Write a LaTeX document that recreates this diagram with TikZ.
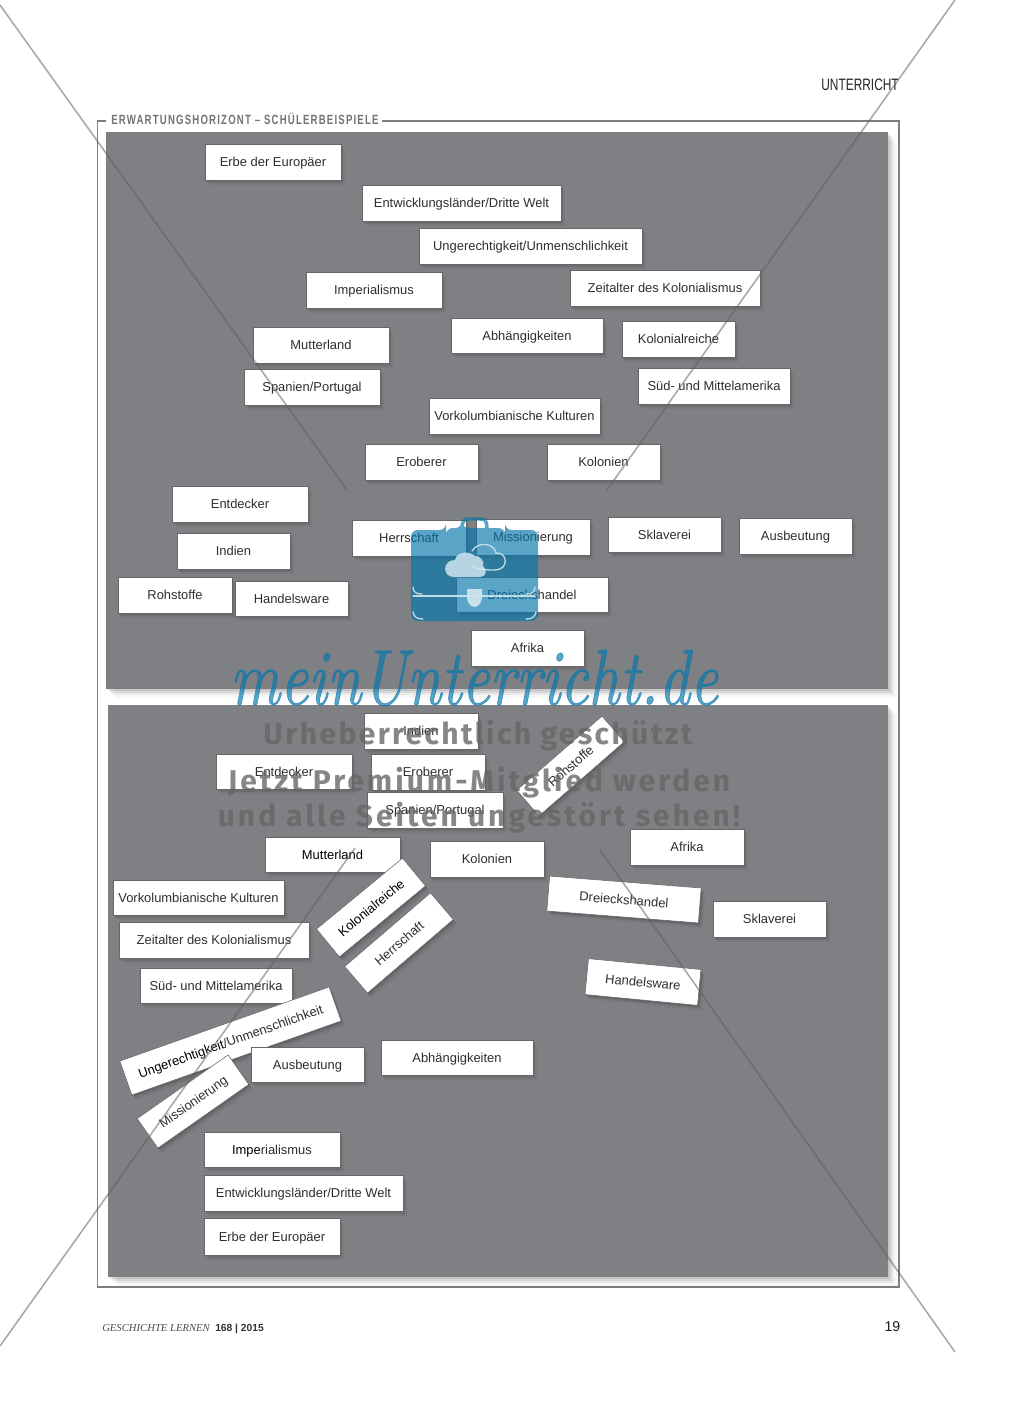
\documentclass[tikz,border=0pt]{standalone}
\usepackage{fontspec}
\usepackage{graphicx}
\setmainfont{Liberation Sans}
\newfontfamily\narrowbold[FakeStretch=0.72,LetterSpace=9]{Liberation Sans Bold}
\newfontfamily\narrowreg[FakeStretch=0.72]{Liberation Sans}
\newfontfamily\markfont[LetterSpace=10]{Fira Sans Bold}
\newfontfamily\markfonttight[LetterSpace=8]{Fira Sans Bold}
\newfontfamily\footserif[Ligatures=TeX]{Liberation Serif}
\newfontfamily\brandfont[FakeBold=0.9]{Latin Modern Roman}
\usetikzlibrary{shadows}
\definecolor{panelgrey}{HTML}{7F8084}
\definecolor{framegrey}{HTML}{7E7E7E}
\definecolor{cardink}{HTML}{2E2E2E}
\definecolor{bagblue}{RGB}{5,118,172}
\definecolor{baglight}{HTML}{CFE4EE}
\definecolor{xgrey}{HTML}{5F5F5F}
\tikzset{
  x=0.75pt,y=-0.75pt,
  cardstyle/.style={draw=black!60,line width=0.4pt,fill=white,inner sep=0pt,outer sep=0pt,
    text=cardink,font=\fontsize{9.7pt}{12pt}\selectfont,text height=9.4pt,text depth=2pt,
    align=center,
    general shadow={shadow xshift=0.8pt,shadow yshift=-1pt,fill=black,opacity=.11},
    general shadow={shadow xshift=1.8pt,shadow yshift=-2.2pt,fill=black,opacity=.09},
    general shadow={shadow xshift=3pt,shadow yshift=-3.6pt,fill=black,opacity=.05}},
  panelstyle/.style={fill=panelgrey,draw=none,inner sep=0pt,outer sep=0pt,
    general shadow={shadow xshift=1.5pt,shadow yshift=-1.5pt,fill=black,opacity=.09},
    general shadow={shadow xshift=3pt,shadow yshift=-3pt,fill=black,opacity=.07},
    general shadow={shadow xshift=4.5pt,shadow yshift=-4.5pt,fill=black,opacity=.05},
    general shadow={shadow xshift=6.5pt,shadow yshift=-6.5pt,fill=black,opacity=.03}},
  framestyle/.style={draw=framegrey,line width=1.05pt},
  xline/.style={draw=xgrey,line width=1.15pt,opacity=.55},
  marktext/.style={text=black!60,opacity=.79,text opacity=.79,inner sep=0pt,font=\markfont\fontsize{22.5pt}{24pt}\selectfont},
  baglines/.style={draw=baglight,line width=1pt,line cap=round,opacity=.9}
}
\newcommand{\card}[6]{\node[cardstyle,minimum width={(#4-#2)*0.75pt},minimum height={(#5-#3)*0.75pt}] (#1) at ({(#2+#4)/2},{(#3+#5)/2}) {#6};}
\newcommand{\rcard}[7]{\node[cardstyle,rotate=#6,minimum width={#4*0.75pt},minimum height={#5*0.75pt}] (#1) at (#2,#3) {#7};}
\newcommand{\panelbox}[5]{\node[panelstyle,minimum width={(#4-#2)*0.75pt},minimum height={(#5-#3)*0.75pt}] (#1) at ({(#2+#4)/2},{(#3+#5)/2}) {};}
\begin{document}
\begin{tikzpicture}
\useasboundingbox (0,0) rectangle (1024,1420);
\fill[white] (0,0) rectangle (1024,1420);
% frame and title
\coordinate (fa) at (106,121); \coordinate (fb) at (97.5,121); \coordinate (fc) at (97.5,1287);
\coordinate (fd) at (899,1287); \coordinate (fe) at (899,121); \coordinate (ff) at (382,121);
\draw[framestyle] (fa) -- (fb) -- (fc) -- (fd) -- (fe) -- (ff);
\node[anchor=west,inner sep=0pt,text=black!55,font=\narrowbold\fontsize{10pt}{11pt}\selectfont] (title) at (111,119) {ERWARTUNGSHORIZONT – SCHÜLERBEISPIELE};
\node[anchor=east,inner sep=0pt,text=black!85,font=\narrowreg\fontsize{12.4pt}{13pt}\selectfont] (head) at (899,85) {UNTERRICHT};
% panels
\panelbox{paneltop}{106}{132}{888}{689}
\panelbox{panelbottom}{108}{705}{888}{1277}
% top cards
\card{a1}{205}{144}{341}{180}{Erbe der Europäer}
\card{a2}{362}{185}{561}{221}{Entwicklungsländer/Dritte Welt}
\card{a3}{419}{228}{642}{264}{Ungerechtigkeit/Unmenschlichkeit}
\card{a4}{306}{272}{442}{308}{Imperialismus}
\card{a5}{570}{270}{760}{306}{Zeitalter des Kolonialismus}
\card{a6}{253}{327}{389}{363}{Mutterland}
\card{a7}{451}{318}{603}{353}{Abhängigkeiten}
\card{a8}{622}{321}{735}{357}{Kolonialreiche}
\card{a9}{638}{368}{790}{404}{Süd- und Mittelamerika}
\card{a10}{244}{369}{380}{405}{Spanien/Portugal}
\card{a11}{429}{398}{600}{434}{Vorkolumbianische Kulturen}
\card{a12}{365}{444}{478}{480}{Eroberer}
\card{a13}{547}{444}{660}{480}{Kolonien}
\card{a14}{172}{486}{308}{522}{Entdecker}
\card{a15}{177}{533}{290}{569}{Indien}
\card{a16}{352}{520}{466}{556}{Herrschaft}
\card{a17}{476}{519}{590}{555}{Missionierung}
\card{a18}{456}{577}{608}{612}{Dreieckshandel}
\card{a19}{608}{517}{721}{552}{Sklaverei}
\card{a20}{739}{518}{852}{554}{Ausbeutung}
\card{a21}{118}{577}{232}{613}{Rohstoffe}
\card{a22}{235}{581}{348}{616}{Handelsware}
\card{a23}{471}{630}{584}{666}{Afrika}
% bottom cards
\card{b1}{364}{713}{478}{749}{Indien}
\card{b2}{216}{754}{352}{789}{Entdecker}
\card{b3}{371}{754}{485}{790}{Eroberer}
\card{b4}{367}{792}{503}{828}{Spanien/Portugal}
\rcard{b5}{570.5}{766}{113}{34}{41}{Rohstoffe}
\card{b6}{265}{837}{400}{872}{\textcolor{black}{Mutterland}}
\card{b7}{430}{841}{544}{877}{Kolonien}
\card{b8}{630}{829}{744}{865}{Afrika}
\rcard{b9}{624}{899.5}{152}{35}{-4.5}{Dreieckshandel}
\card{b10}{713}{901}{826}{937}{Sklaverei}
\rcard{b11}{643}{982}{113}{36}{-5.5}{Handelsware}
\card{b12}{113}{880}{284}{915}{Vorkolumbianische Kulturen}
\card{b13}{119}{922}{309}{958}{Zeitalter des Kolonialismus}
\card{b14}{140}{968}{292}{1003}{Süd- und Mittelamerika}
\rcard{b15}{371}{907.5}{111.5}{36}{39.5}{\textcolor{black}{Kolonialreiche}}
\rcard{b16}{399}{943}{113}{35}{40.6}{Herrschaft}
\rcard{b17}{230.5}{1041}{222}{36}{19.5}{\textcolor{black}{Ungerechtigkeit}/Unmenschlichkeit}
\card{b18}{251}{1047}{364}{1082}{Ausbeutung}
\card{b19}{381}{1040}{533}{1075}{Abhängigkeiten}
\rcard{b20}{193}{1101.5}{111}{36}{35}{Missionierung}
\card{b21}{204}{1132}{340}{1167}{\textcolor{black}{Impe}rialismus}
\card{b22}{204}{1175}{403}{1211}{Entwicklungsländer/Dritte Welt}
\card{b23}{204}{1218}{340}{1255}{Erbe der Europäer}
% footer
\node[anchor=west,inner sep=0pt,text=black!70,font=\footserif\itshape\fontsize{8pt}{9pt}\selectfont] (foot) at (102,1328.5) {GESCHICHTE LERNEN};
\node[anchor=west,inner sep=0pt,text=black!80,font=\bfseries\fontsize{7.7pt}{9pt}\selectfont] (issue) at (215,1328.5) {168 | 2015};
\node[anchor=east,inner sep=0pt,text=black!90,font=\fontsize{10.6pt}{12pt}\selectfont] (page) at (900.5,1327) {19};
% crossing lines
\coordinate (l1a) at (0,5); \coordinate (l1b) at (347,490);
\coordinate (l2a) at (955,0); \coordinate (l2b) at (607,490);
\coordinate (l3a) at (355,848); \coordinate (l3b) at (0,1346);
\coordinate (l4a) at (600,850); \coordinate (l4b) at (955,1352);
\draw[xline] (l1a) -- (l1b);
\draw[xline] (l2a) -- (l2b);
\draw[xline] (l3a) -- (l3b);
\draw[xline] (l4a) -- (l4b);
% briefcase
\begin{scope}[transparency group,opacity=.66]
\fill[bagblue,rounded corners=5pt] (411,530) -- (446,530) -- (446,528) -- (462,528) -- (462,528) -- (505,528) -- (505,530) -- (538,530) -- (538,621) -- (411,621) -- cycle;
\draw[bagblue,line width=2.6pt] (462,530) .. controls (462,520) and (464,519) .. (470,519) -- (480,519) .. controls (485,519) and (487,520) .. (487,530);
\end{scope}
\draw[baglines,fill=none] (472,566) .. controls (480,570) and (488,570) .. (495,570) .. controls (509,570) and (508,552) .. (496,553) .. controls (494,543) and (478,541) .. (472,551);
\fill[baglight,opacity=.85,draw=none] (454,577) .. controls (442,577) and (442,560) .. (455,560) .. controls (457,551) and (470,551) .. (475,556) .. controls (480,555) and (485,562) .. (483,566) .. controls (488,570) and (486,577) .. (480,577) -- cycle;
\draw[baglines] (413,596) -- (535,596);
\draw[baglines] (413,587) .. controls (413,592) and (416,594) .. (422,594);
\draw[baglines] (535,587) .. controls (535,592) and (532,594) .. (526,594);
\draw[baglines] (413,612) .. controls (414,617) and (417,619) .. (423,619);
\draw[baglines] (536,612) .. controls (535,617) and (532,619) .. (526,619);
\fill[baglight,opacity=.95] (467,589) -- (482,589) -- (482,597) .. controls (482,603) and (478,607) .. (474.5,607) .. controls (471,607) and (467,603) .. (467,597) -- cycle;
% watermark text
\node[inner sep=0pt,text=bagblue,opacity=.66,text opacity=.66] (brand) at (474,678) {\resizebox{366pt}{41pt}{\brandfont\itshape meinUnterricht.de}};
\node[marktext,font=\markfonttight\fontsize{22.5pt}{24pt}\selectfont] (m1) at (478,736) {Urheberrechtlich geschützt};
\node[marktext] (m2) at (479,783) {Jetzt Premium-Mitglied werden};
\node[marktext] (m3) at (479,818) {und alle Seiten ungestört sehen!};
\end{tikzpicture}
\end{document}
